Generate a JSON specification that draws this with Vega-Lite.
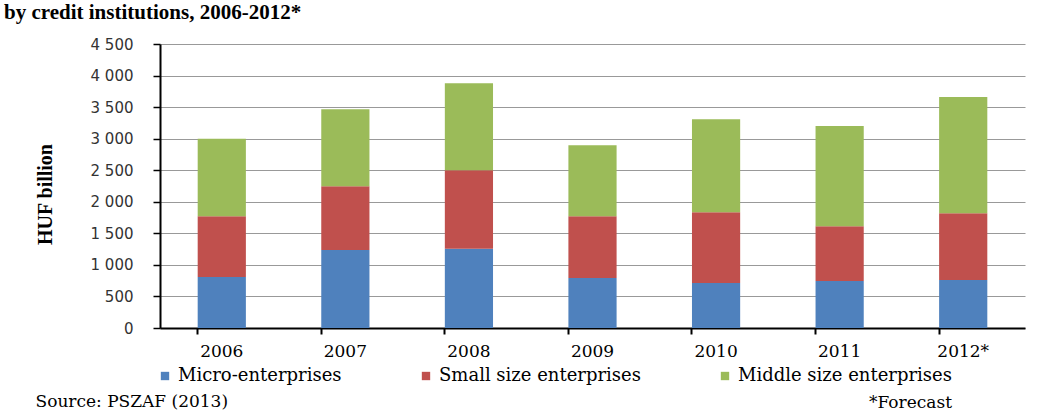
{
  "$schema": "https://vega.github.io/schema/vega-lite/v6.json",
  "autosize": {"type": "none"},
  "width": 865,
  "height": 284,
  "padding": {"left": 160, "top": 44, "right": 18, "bottom": 86},
  "background": "white",
  "title": {
    "text": "by credit institutions, 2006-2012*",
    "anchor": "start",
    "frame": "group",
    "font": "Liberation Serif",
    "fontSize": 21,
    "fontWeight": "bold",
    "color": "black",
    "dx": -156,
    "offset": 14
  },
  "data": {
    "values": [
      {"year": "2006", "series": "Micro-enterprises", "k": 1, "value": 807},
      {"year": "2006", "series": "Small size enterprises", "k": 2, "value": 965},
      {"year": "2006", "series": "Middle size enterprises", "k": 3, "value": 1228},
      {"year": "2007", "series": "Micro-enterprises", "k": 1, "value": 1234},
      {"year": "2007", "series": "Small size enterprises", "k": 2, "value": 1013},
      {"year": "2007", "series": "Middle size enterprises", "k": 3, "value": 1218},
      {"year": "2008", "series": "Micro-enterprises", "k": 1, "value": 1255},
      {"year": "2008", "series": "Small size enterprises", "k": 2, "value": 1245},
      {"year": "2008", "series": "Middle size enterprises", "k": 3, "value": 1377},
      {"year": "2009", "series": "Micro-enterprises", "k": 1, "value": 791},
      {"year": "2009", "series": "Small size enterprises", "k": 2, "value": 981},
      {"year": "2009", "series": "Middle size enterprises", "k": 3, "value": 1124},
      {"year": "2010", "series": "Micro-enterprises", "k": 1, "value": 712},
      {"year": "2010", "series": "Small size enterprises", "k": 2, "value": 1123},
      {"year": "2010", "series": "Middle size enterprises", "k": 3, "value": 1472},
      {"year": "2011", "series": "Micro-enterprises", "k": 1, "value": 744},
      {"year": "2011", "series": "Small size enterprises", "k": 2, "value": 870},
      {"year": "2011", "series": "Middle size enterprises", "k": 3, "value": 1587},
      {"year": "2012*", "series": "Micro-enterprises", "k": 1, "value": 760},
      {"year": "2012*", "series": "Small size enterprises", "k": 2, "value": 1060},
      {"year": "2012*", "series": "Middle size enterprises", "k": 3, "value": 1840}
    ]
  },
  "mark": {"type": "bar"},
  "encoding": {
    "x": {
      "field": "year",
      "type": "nominal",
      "sort": null,
      "scale": {"paddingInner": 0.61, "paddingOuter": 0.305},
      "axis": {
        "title": "Source: PSZAF (2013)",
        "titleAnchor": "start",
        "titleX": -125,
        "titleY": 78,
        "titleBaseline": "alphabetic",
        "titleFont": "DejaVu Serif",
        "titleFontSize": 17,
        "titleFontWeight": "normal",
        "titleColor": "black",
        "labelAngle": 0,
        "labelFont": "DejaVu Serif",
        "labelFontSize": 17,
        "labelColor": "black",
        "labelPadding": 9,
        "bandPosition": 0,
        "domainColor": "black",
        "domainWidth": 2,
        "tickColor": "black",
        "tickWidth": 2,
        "tickSize": 6,
        "grid": false
      }
    },
    "y": {
      "field": "value",
      "type": "quantitative",
      "stack": "zero",
      "scale": {"domain": [0, 4500], "nice": false},
      "axis": {
        "values": [0, 500, 1000, 1500, 2000, 2500, 3000, 3500, 4000, 4500],
        "labelExpr": "replace(format(datum.value, ','), ',', ' ')",
        "title": "HUF billion",
        "titleFont": "Liberation Serif",
        "titleFontSize": 20,
        "titleFontWeight": "bold",
        "titleColor": "black",
        "titleBaseline": "middle",
        "titleX": -115,
        "titleY": 150,
        "labelFont": "DejaVu Sans",
        "labelFontSize": 15,
        "labelColor": "#333333",
        "labelPadding": 20,
        "domainColor": "black",
        "domainWidth": 2,
        "tickColor": "black",
        "tickWidth": 1.5,
        "tickSize": 7,
        "grid": true,
        "gridColor": "#999999",
        "gridWidth": 1
      }
    },
    "color": {
      "field": "series",
      "type": "nominal",
      "scale": {
        "domain": ["Micro-enterprises", "Small size enterprises", "Middle size enterprises"],
        "range": ["#4F81BD", "#C0504D", "#9BBB59"]
      },
      "legend": {
        "orient": "none",
        "direction": "horizontal",
        "legendX": -4,
        "legendY": 323,
        "title": "*Forecast",
        "titleOrient": "bottom",
        "titleAnchor": "end",
        "titleFont": "DejaVu Serif",
        "titleFontSize": 17,
        "titleFontWeight": "normal",
        "titleColor": "black",
        "titlePadding": 10,
        "labelFont": "DejaVu Serif",
        "labelFontSize": 18,
        "labelColor": "black",
        "labelLimit": 400,
        "symbolType": "square",
        "symbolSize": 70,
        "symbolStrokeWidth": 0,
        "columnPadding": 75,
        "labelOffset": 4
      }
    },
    "order": {"field": "k", "type": "quantitative", "sort": "ascending"}
  },
  "config": {
    "view": {"stroke": null}
  }
}
